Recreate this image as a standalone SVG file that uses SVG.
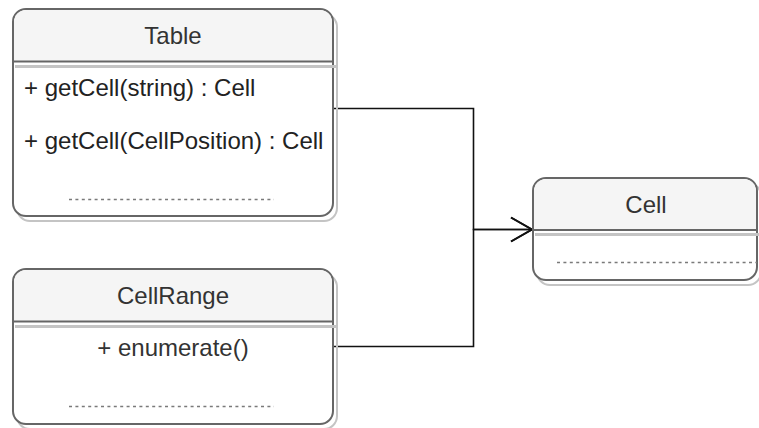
<svg xmlns="http://www.w3.org/2000/svg" width="759" height="428" viewBox="0 0 759 428">
  <style>
    .shadow { fill: none; stroke: #c4c4c4; stroke-width: 2; }
    .body { fill: #ffffff; stroke: #666666; stroke-width: 2; }
    .head { fill: #f5f5f5; stroke: none; }
    .sep { stroke: #666666; stroke-width: 2; }
    .sepsh { stroke: #c4c4c4; stroke-width: 3; }
    .title { font-family: "Liberation Sans", Arial, sans-serif; font-size: 24px; fill: #333333; text-anchor: middle; }
    .item { font-family: "Liberation Sans", Arial, sans-serif; font-size: 24px; fill: #222222; }
    .dots { stroke: #7a7a7a; stroke-width: 1.4; stroke-dasharray: 3 3.4; }
    .conn { fill: none; stroke: #111111; stroke-width: 1.6; }
  </style>
  <defs>
    <marker id="open" markerUnits="userSpaceOnUse" markerWidth="26" markerHeight="28" refX="21" refY="12" orient="auto" viewBox="-2 -2 26 28">
      <path d="M0,0 L21,12 L0,24" fill="none" stroke="#111111" stroke-width="1.8"/>
    </marker>
  </defs>

  <g id="connectors">
    <path class="conn" d="M333,108.5 H473.5 V229.5 H532" marker-end="url(#open)"/>
    <path class="conn" d="M333,346.5 H473.5 V229.5 H532" marker-end="url(#open)"/>
  </g>

  <g id="Table">
    <rect class="shadow" x="17" y="14" width="320" height="207" rx="13"/>
    <rect class="body" x="13" y="9" width="320" height="207" rx="13"/>
    <path class="head" d="M14,61 V22 A12,12 0 0 1 26,10 H320 A12,12 0 0 1 332,22 V61 Z"/>
    <line class="sepsh" x1="15" y1="66.5" x2="336" y2="66.5"/>
    <line class="sep" x1="13" y1="61.5" x2="333" y2="61.5"/>
    <text class="title" x="173" y="43.5">Table</text>
    <text class="item" x="24" y="96">+ getCell(string) : Cell</text>
    <text class="item" x="24" y="149">+ getCell(CellPosition) : Cell</text>
    <line class="dots" x1="69" y1="199.5" x2="274" y2="199.5"/>
  </g>

  <g id="CellRange">
    <rect class="shadow" x="17" y="274" width="320" height="155" rx="13"/>
    <rect class="body" x="13" y="269" width="320" height="155" rx="13"/>
    <path class="head" d="M14,321 V282 A12,12 0 0 1 26,270 H320 A12,12 0 0 1 332,282 V321 Z"/>
    <line class="sepsh" x1="15" y1="326.5" x2="336" y2="326.5"/>
    <line class="sep" x1="13" y1="321.5" x2="333" y2="321.5"/>
    <text class="title" x="173" y="304">CellRange</text>
    <text class="title" x="173" y="356" fill="#222222">+ enumerate()</text>
    <line class="dots" x1="69" y1="406.5" x2="274" y2="406.5"/>
  </g>

  <g id="Cell">
    <rect class="shadow" x="537" y="183" width="224" height="102" rx="13"/>
    <rect class="body" x="533" y="178" width="224" height="102" rx="13"/>
    <path class="head" d="M534,230 V191 A12,12 0 0 1 546,179 H744 A12,12 0 0 1 756,191 V230 Z"/>
    <line class="sepsh" x1="535" y1="234.5" x2="759" y2="234.5"/>
    <line class="sep" x1="533" y1="230" x2="757" y2="230"/>
    <text class="title" x="646" y="212.5">Cell</text>
    <line class="dots" x1="557" y1="262.5" x2="757" y2="262.5"/>
  </g>
</svg>
